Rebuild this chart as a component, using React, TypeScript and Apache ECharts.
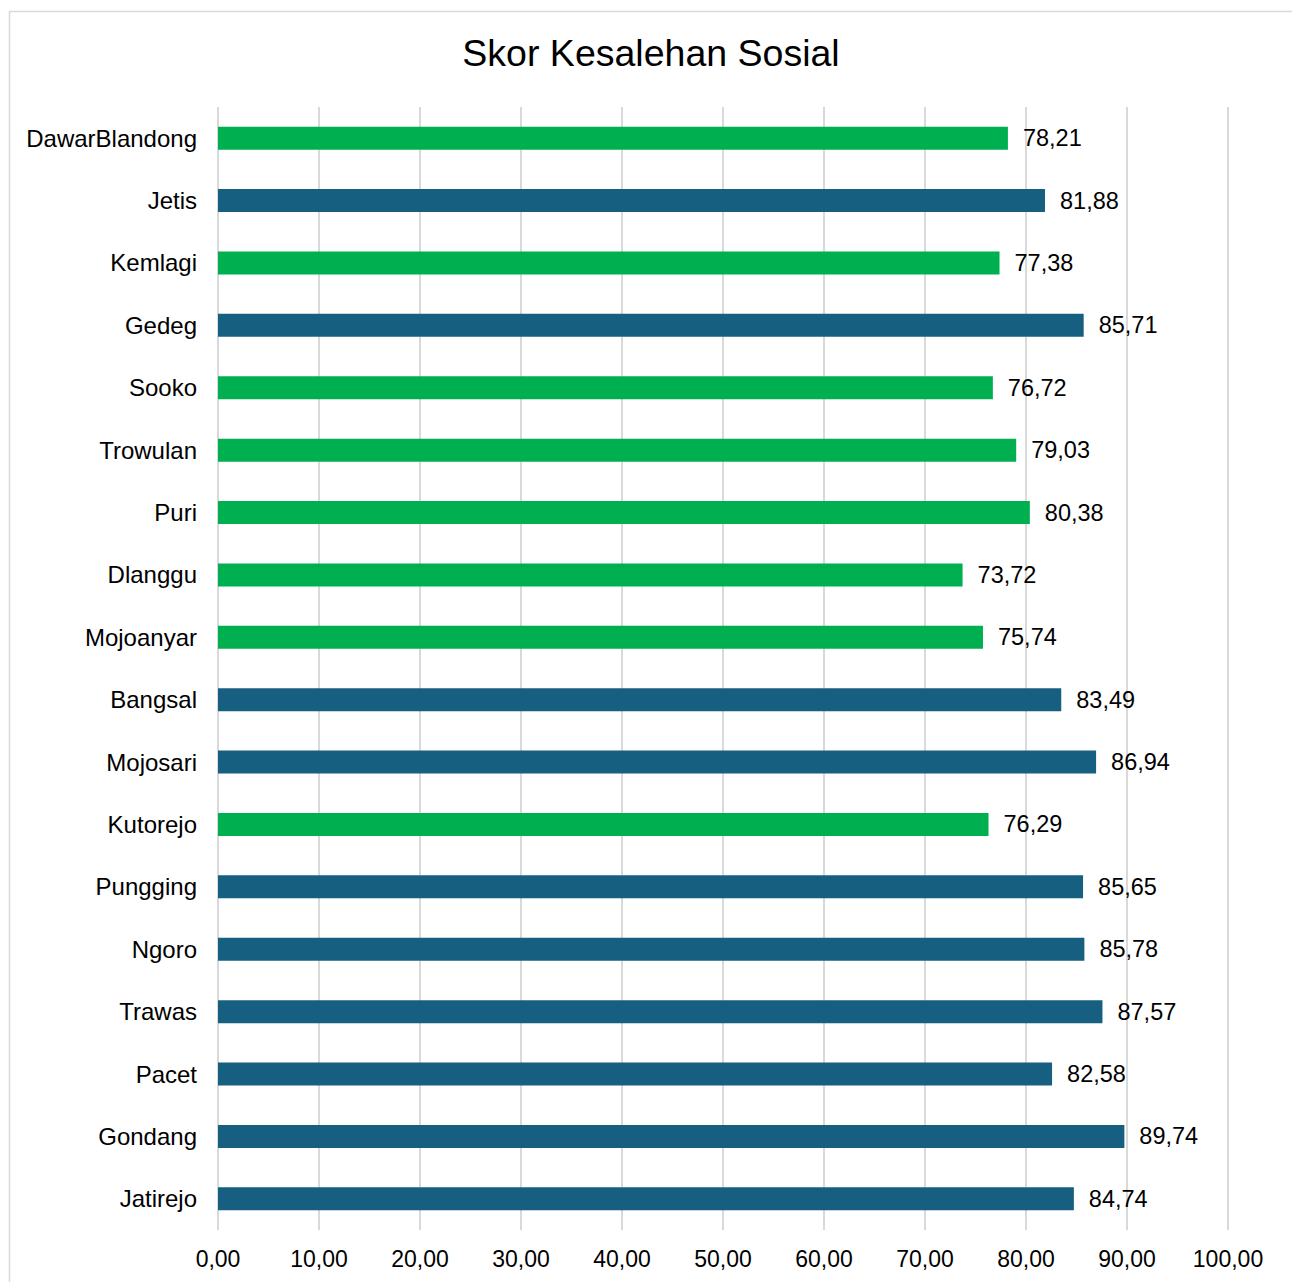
import React, { useEffect, useRef } from "react";
import * as echarts from "echarts";

const categories = [
  "DawarBlandong", "Jetis", "Kemlagi", "Gedeg", "Sooko", "Trowulan", "Puri", "Dlanggu", "Mojoanyar",
  "Bangsal", "Mojosari", "Kutorejo", "Pungging", "Ngoro", "Trawas", "Pacet", "Gondang", "Jatirejo",
];
const values = [
  78.21, 81.88, 77.38, 85.71, 76.72, 79.03, 80.38, 73.72, 75.74,
  83.49, 86.94, 76.29, 85.65, 85.78, 87.57, 82.58, 89.74, 84.74,
];
// "low" = green, "high" = blue
const groups = [
  "low", "high", "low", "high", "low", "low", "low", "low", "low",
  "high", "high", "low", "high", "high", "high", "high", "high", "high",
];
const xTicks = [0, 10, 20, 30, 40, 50, 60, 70, 80, 90, 100];
const titleText = "Skor Kesalehan Sosial";

const GREEN = "#00B050";
const BLUE = "#175F80";
const FONT = "'Liberation Sans', Arial, sans-serif";
const fmt = (v: number) => v.toFixed(2).replace(".", ",");

export default function App() {
  const ref = useRef<HTMLDivElement>(null);
  useEffect(() => {
    if (!ref.current) return;
    const chart = echarts.init(ref.current, undefined, { renderer: "svg" });
    chart.setOption({
      animation: false,
      backgroundColor: "#ffffff",
      graphic: [
        {
          type: "rect",
          shape: { x: 9.5, y: 11.5, width: 1400, height: 1400 },
          style: { fill: "none", stroke: "#d9d9d9", lineWidth: 1.5 },
          silent: true,
          z: -1,
        },
        {
          type: "text",
          x: 651,
          y: 53,
          style: {
            text: titleText,
            fontFamily: FONT,
            fontSize: 37.5,
            fill: "#000000",
            align: "center",
            verticalAlign: "middle",
          },
          silent: true,
        },
      ],
      grid: { left: 218, right: 64, top: 107, bottom: 52, containLabel: false },
      xAxis: {
        type: "value",
        min: xTicks[0],
        max: xTicks[xTicks.length - 1],
        interval: 10,
        axisLine: { show: false },
        axisTick: { show: false },
        splitLine: { show: true, lineStyle: { color: "#d9d9d9", width: 2 } },
        axisLabel: {
          formatter: (v: number) => fmt(v),
          fontFamily: FONT,
          fontSize: 23,
          color: "#000000",
          margin: 17,
        },
      },
      yAxis: {
        type: "category",
        data: categories,
        inverse: true,
        axisLine: { show: false },
        axisTick: { show: false },
        splitLine: { show: false },
        axisLabel: { fontFamily: FONT, fontSize: 24, color: "#000000", margin: 21 },
      },
      series: [
        {
          type: "bar",
          barWidth: 23,
          data: values.map((v, i) => ({
            value: v,
            itemStyle: { color: groups[i] === "low" ? GREEN : BLUE },
          })),
          label: {
            show: true,
            position: "right",
            distance: 15,
            formatter: (p: any) => fmt(p.value),
            fontFamily: FONT,
            fontSize: 23.5,
            color: "#000000",
          },
        },
      ],
    });
    return () => chart.dispose();
  }, []);
  return (
    <div
      ref={ref}
      style={{ position: "fixed", left: 0, top: 0, width: 1292, height: 1282 }}
    />
  );
}
